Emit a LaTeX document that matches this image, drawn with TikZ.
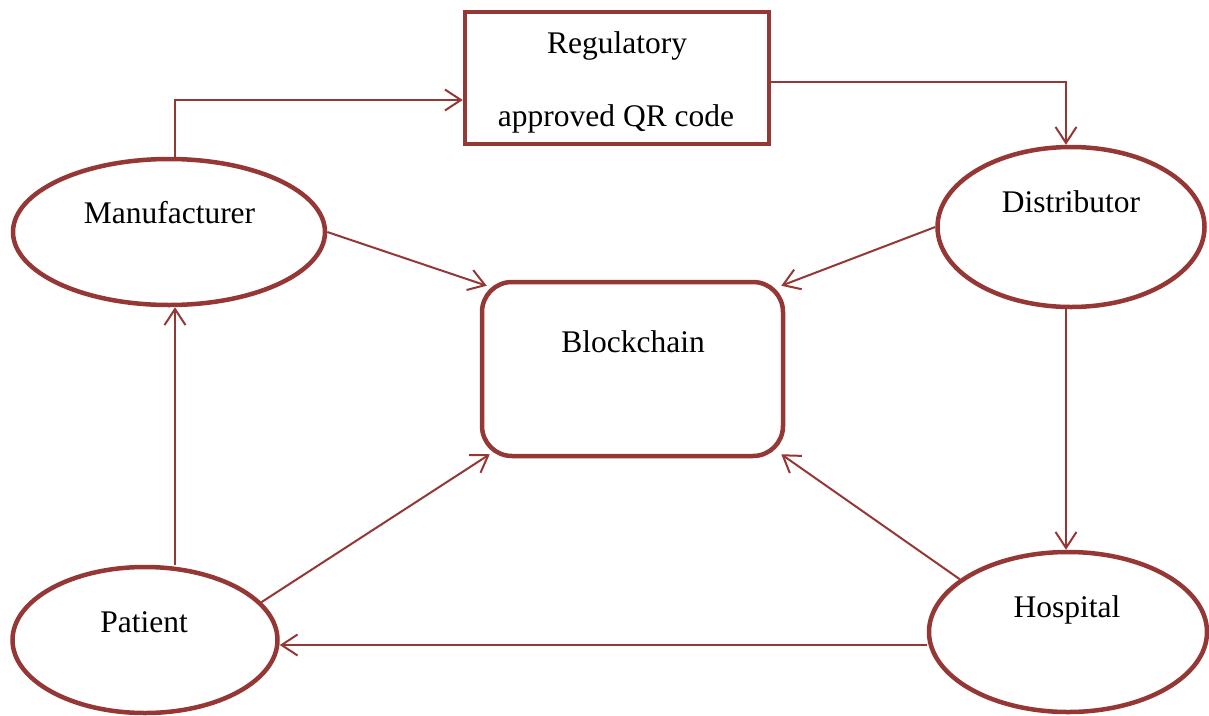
\documentclass[tikz,border=0pt]{standalone}
\usepackage{fontspec}
\setmainfont{Liberation Serif}
\usetikzlibrary{shapes.geometric,arrows.meta}
\definecolor{dred}{RGB}{149,55,53}
\begin{document}
\begin{tikzpicture}[x=1pt,y=-1pt,
  shapeline/.style={draw=dred,line width=4.5pt,fill=white,inner sep=0pt},
  oval/.style={shapeline,ellipse},
  lbl/.style={anchor=base,inner sep=0pt,font=\fontsize{31.5}{36}\selectfont},
  arr/.style={draw=dred,line width=2pt,-{Straight Barb[length=16pt,width=21pt,line width=2pt]}},
  plain/.style={draw=dred,line width=2pt}]
\useasboundingbox (0,0) rectangle (1209,715);
% shapes
\node[shapeline,rectangle,minimum width=304pt,minimum height=132pt] (reg) at (617,78) {};
\node[shapeline,rectangle,rounded corners=30pt,minimum width=301pt,minimum height=174pt] (blk) at (632.5,369) {};
\node[oval,minimum width=312pt,minimum height=146pt] (man) at (169,232) {};
\node[oval,minimum width=267pt,minimum height=160pt] (dis) at (1071,227) {};
\node[oval,minimum width=278pt,minimum height=160pt] (hos) at (1068,632) {};
\node[oval,minimum width=265pt,minimum height=146pt] (pat) at (145,640) {};
% labels
\node[lbl] (regA) at (617,53) {Regulatory};
\node[lbl] (regB) at (616,126) {approved QR code};
\node[lbl] (blkT) at (633,352) {Blockchain};
\node[lbl] (manT) at (169.5,223) {Manufacturer};
\node[lbl] (disT) at (1071,212) {Distributor};
\node[lbl] (hosT) at (1067,617) {Hospital};
\node[lbl] (patT) at (144,632) {Patient};
% connectors
\draw[arr] ([xshift=6pt]man.north) |- ([yshift=-22pt]reg.west);
\draw[arr] ([yshift=-4pt]reg.east) -| ([xshift=-5pt]dis.north);
\draw[arr] ([xshift=-5pt]dis.south) -- ([xshift=-2pt]hos.north);
\draw[arr] (man.east) -- ([shift={(7pt,-6pt)}]blk.north west);
\draw[arr] (dis.west) -- ([shift={(-4pt,-6pt)}]blk.north east);
\draw[arr] (hos.154) -- ([shift={(-4pt,4pt)}]blk.south east);
\draw[arr] (pat.18) -- ([shift={(10pt,4pt)}]blk.south west);
\draw[arr] ([yshift=-13pt]hos.west) -- ([yshift=-5pt]pat.east);
\draw[arr] ([xshift=30pt]pat.north) -- ([xshift=6pt]man.south);
\end{tikzpicture}
\end{document}
